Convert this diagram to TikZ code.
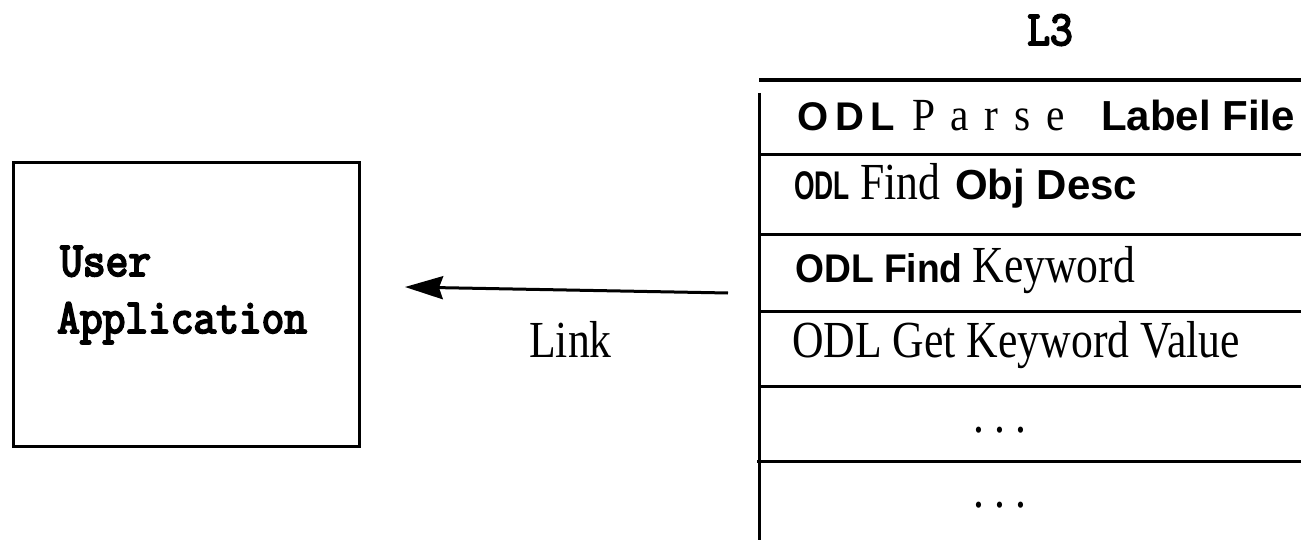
\documentclass[tikz,border=0pt]{standalone}
\usepackage{fontspec}
\usetikzlibrary{arrows.meta}
\newfontfamily\monofnt{Latin Modern Mono}[FakeBold=4, FakeStretch=0.9]
\newfontfamily\seriffnt{Liberation Serif}[FakeStretch=0.84]
\newfontfamily\seriffntw{Liberation Serif}[FakeStretch=0.9,LetterSpace=34]
\newfontfamily\sansfnt{Liberation Sans}
\newfontfamily\sansfntw{Liberation Sans}[LetterSpace=17]
\newfontfamily\sansfntc{Liberation Sans}[FakeStretch=0.66]
\newfontfamily\sansfntn{Liberation Sans}[FakeStretch=0.93]
\tikzset{
  txt/.style={inner sep=0pt, anchor=base west},
  mono/.style={txt, font=\monofnt\fontsize{49}{58}\selectfont},
  sertxt/.style={txt, font=\seriffnt\fontsize{52}{62}\selectfont},
  rule/.style={line width=3pt},
  boxline/.style={line width=3pt},
}
\newcommand{\mysb}[1]{{\sansfnt\bfseries\fontsize{42}{50}\selectfont #1}}
\newcommand{\mysbw}[1]{{\sansfntw\bfseries\fontsize{40}{48}\selectfont #1}}
\newcommand{\mysbc}[1]{{\sansfntc\bfseries\fontsize{40}{48}\selectfont #1}}
\newcommand{\mysbn}[1]{{\sansfntn\bfseries\fontsize{40}{48}\selectfont #1}}
\newcommand{\mysrf}[1]{{\seriffnt\fontsize{52}{62}\selectfont #1}}
\newcommand{\mysrfw}[1]{{\seriffntw\fontsize{46}{54}\selectfont #1}}
\begin{document}
\begin{tikzpicture}[x=1pt,y=1pt]
\useasboundingbox (0,0) rectangle (1301,-540);
% left box
\node[draw, boxline, minimum width=346pt, minimum height=283pt, inner sep=0pt] (app) at (186,-304.5) {};
\node[mono] (user) at (60,-276) {User};
\node[mono] (application) at (57,-333) {Application};
% L3
\node[mono, anchor=base] (l3) at (1050,-45) {L3};
% table
\coordinate (t0l) at (759,-80);  \coordinate (t0r) at (1301,-80);
\coordinate (t1l) at (759,-155); \coordinate (t1r) at (1301,-155);
\coordinate (t2l) at (759,-235); \coordinate (t2r) at (1301,-235);
\coordinate (t3l) at (759,-311); \coordinate (t3r) at (1301,-311);
\coordinate (t4l) at (759,-386); \coordinate (t4r) at (1301,-386);
\coordinate (t5l) at (757,-461); \coordinate (t5r) at (1301,-461);
\coordinate (vtop) at (759,-93); \coordinate (vbot) at (759,-540);
\draw[line width=3.5pt] (t0l) -- (t0r);
\draw[rule] (t1l) -- (t1r);
\draw[rule] (t2l) -- (t2r);
\draw[rule] (t3l) -- (t3r);
\draw[rule] (t4l) -- (t4r);
\draw[rule] (t5l) -- (t5r);
\draw[rule] (vtop) -- (vbot);
% row texts
\node[txt] (r1a) at (797,-131) {\mysbw{ODL}};
\node[txt] (r1b) at (912,-131) {\mysrfw{Parse}};
\node[txt] (r1c) at (1101,-131) {\mysb{Label File}};
\node[txt] (r2a) at (794,-200) {\mysbc{ODL}};
\node[txt] (r2b) at (860,-200) {\mysrf{Find}};
\node[txt] (r2c) at (955,-200) {\mysb{Obj Desc}};
\node[txt] (r3) at (795,-282) {\mysbn{ODL Find}\hspace{10pt}\mysrf{Keyword}};
\node[sertxt] (r4) at (792,-357) {ODL Get Keyword Value};
\node[sertxt, anchor=base] (r5) at (1000,-432) {.\hspace{10pt}.\hspace{10pt}.};
\node[sertxt, anchor=base] (r6) at (1000,-507) {.\hspace{10pt}.\hspace{10pt}.};
% link arrow
\coordinate (linkstart) at (728,-293);
\coordinate (linkend) at (405,-287);
\draw[line width=3pt, -{Stealth[length=38pt, width=23pt, inset=4pt]}] (linkstart) -- (linkend);
\node[sertxt] (link) at (529,-357) {Link};
\end{tikzpicture}
\end{document}
